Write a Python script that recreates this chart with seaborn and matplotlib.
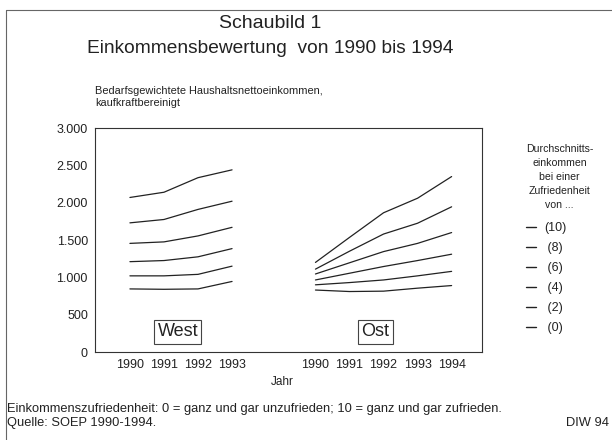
import matplotlib
matplotlib.use("Agg")
import matplotlib.pyplot as plt
import seaborn as sns
import pandas as pd
from matplotlib.lines import Line2D

# data (DM per month)
levels = [10, 8, 6, 4, 2, 0]
west_years = [1990, 1991, 1992, 1993]
ost_years = [1990, 1991, 1992, 1993, 1994]

west_values = {
    10: [2070, 2140, 2335, 2440],
    8: [1730, 1775, 1910, 2020],
    6: [1455, 1475, 1555, 1670],
    4: [1210, 1225, 1275, 1385],
    2: [1020, 1020, 1040, 1150],
    0: [845, 840, 845, 945],
}
ost_values = {
    10: [1200, 1535, 1865, 2060, 2350],
    8: [1110, 1350, 1580, 1725, 1945],
    6: [1045, 1195, 1345, 1455, 1600],
    4: [965, 1055, 1145, 1225, 1310],
    2: [900, 930, 965, 1020, 1080],
    0: [830, 810, 815, 855, 890],
}
y_ticks = [0, 500, 1000, 1500, 2000, 2500, 3000]
y_ticklabels = ["0", "500", "1.000", "1.500", "2.000", "2.500", "3.000"]

OST_OFFSET = 5.45  # gap between the two panels on the shared axis

rows = []
for lvl in levels:
    for i, yr in enumerate(west_years):
        rows.append({"region": "West", "level": lvl, "year": yr, "pos": i,
                     "value": west_values[lvl][i]})
    for i, yr in enumerate(ost_years):
        rows.append({"region": "Ost", "level": lvl, "year": yr, "pos": OST_OFFSET + i,
                     "value": ost_values[lvl][i]})
df = pd.DataFrame(rows)
df["group"] = df["region"] + "_" + df["level"].astype(str)

sns.set_theme(style="white")
plt.rcParams["font.family"] = ["Liberation Sans", "DejaVu Sans"]

ink = "#222222"
fig = plt.figure(figsize=(6.12, 4.4), dpi=100)
ax = fig.add_axes([0.155, 0.2, 0.633, 0.509])

sns.lineplot(data=df, x="pos", y="value", units="group", estimator=None,
             color=ink, linewidth=0.9, ax=ax, legend=False)

ax.set_xlim(-1.03, 10.35)
ax.set_ylim(0, 3000)
ax.set_yticks(y_ticks)
ax.set_yticklabels(y_ticklabels)
xpos = list(range(len(west_years))) + [OST_OFFSET + i for i in range(len(ost_years))]
xlab = [str(y) for y in west_years] + [str(y) for y in ost_years]
ax.set_xticks(xpos)
ax.set_xticklabels(xlab)
ax.tick_params(axis="both", length=0, labelsize=9, colors=ink)
ax.tick_params(axis="x", pad=5)
ax.tick_params(axis="y", pad=5)
ax.set_xlabel("")
ax.set_ylabel("")
for s in ax.spines.values():
    s.set_color("#333333")
    s.set_linewidth(0.8)

box = dict(boxstyle="square,pad=0.18", facecolor="white", edgecolor="#444444", linewidth=0.8)
ax.text(1.41, 268, "West", ha="center", va="center", fontsize=13, color=ink, bbox=box)
ax.text(OST_OFFSET + 1.76, 268, "Ost", ha="center", va="center", fontsize=13, color=ink, bbox=box)

handles = [Line2D([], [], color=ink, linewidth=1.0) for _ in levels]
labels = ["(10)", " (8)", " (6)", " (4)", " (2)", " (0)"]
leg = ax.legend(handles, labels, title="Durchschnitts-\neinkommen\nbei einer\nZufriedenheit\nvon ...",
                loc="upper left", bbox_to_anchor=(0.859, 0.672), bbox_transform=fig.transFigure,
                frameon=False, fontsize=9, title_fontsize=7.6, handlelength=0.85,
                handletextpad=0.6, labelspacing=0.64, borderaxespad=0, borderpad=0)
leg.get_title().set_multialignment("center")
leg.get_title().set_linespacing(1.48)
leg.get_title().set_color(ink)
leg._legend_box.align = "left"
leg._legend_box.sep = 9
for t in leg.get_texts():
    t.set_color(ink)

fig.text(0.442, 0.947, "Schaubild 1", ha="center", va="center", fontsize=14, color=ink)
fig.text(0.442, 0.89, "Einkommensbewertung  von 1990 bis 1994", ha="center", va="center",
         fontsize=13.8, color=ink)
fig.text(0.155, 0.78, "Bedarfsgewichtete Haushaltsnettoeinkommen,\nkaufkraftbereinigt",
         ha="left", va="center", fontsize=7.9, color=ink, linespacing=1.25)
fig.text(0.461, 0.132, "Jahr", ha="center", va="center", fontsize=8.5, color=ink)
fig.text(0.012, 0.0705, "Einkommenszufriedenheit: 0 = ganz und gar unzufrieden; 10 = ganz und gar zufrieden.",
         ha="left", va="center", fontsize=9.3, color=ink)
fig.text(0.012, 0.0386, "Quelle: SOEP 1990-1994.", ha="left", va="center", fontsize=9.3, color=ink)
fig.text(0.995, 0.0386, "DIW 94", ha="right", va="center", fontsize=9.3, color=ink)

# outer frame of the original figure
fig.add_artist(Line2D([0.01, 1.0], [0.977, 0.977], transform=fig.transFigure, color="#666666", linewidth=0.8))
fig.add_artist(Line2D([0.01, 0.01], [0.0, 0.977], transform=fig.transFigure, color="#666666", linewidth=0.8))

fig.savefig("out.png", dpi=100)
